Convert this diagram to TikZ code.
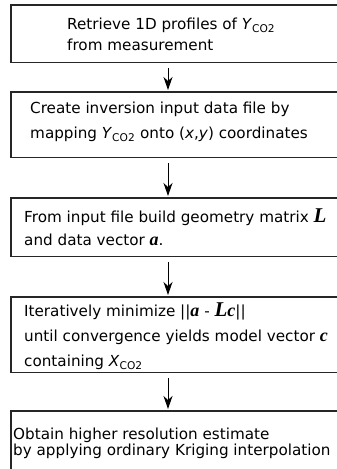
\documentclass[tikz,border=0pt]{standalone}
\usepackage{fontspec}
\setmainfont{DejaVu Sans}
\newfontfamily\symserif{Liberation Serif}
\usepackage{tikz}
\usetikzlibrary{arrows.meta, positioning}

\newcommand{\Yco}{\textit{Y}\textsubscript{CO2}}
\newcommand{\Xco}{\textit{X}\textsubscript{CO2}}
\newcommand{\bvec}[1]{{\symserif\bfseries\itshape\fontsize{18}{18}\selectfont #1}}
\newcommand{\bmat}[1]{{\symserif\bfseries\itshape\fontsize{21}{21}\selectfont #1}}

\tikzset{
  stage/.style={anchor=north west, minimum width=400pt, inner sep=0pt},
  frame/.style={draw=black!85, line width=1.6pt},
  stagetext/.style={anchor=west, align=left, inner sep=0pt},
  flow/.style={-{Stealth[length=13pt, width=9pt, inset=4pt]}, line width=1pt}
}

\begin{document}
\begin{tikzpicture}[x=1pt, y=1pt]
  \useasboundingbox (0,0) rectangle (337,-469);
  \clip (0,0) rectangle (337,-469);

  % the five stages
  \node[stage, minimum height=57pt] (retrieve) at (11,-5) {};
  \node[stagetext, font=\fontsize{15.2}{21}\selectfont] (retrieve-text)
    at ([xshift=56pt, yshift=-1pt]retrieve.west)
    {Retrieve 1D profiles of \Yco\\ from measurement};

  \node[stage, minimum height=65pt] (create) at (11,-92) {};
  \node[stagetext, font=\fontsize{15.2}{25}\selectfont] (create-text)
    at ([xshift=19pt, yshift=3pt]create.west)
    {Create inversion input data file by\\
     mapping \Yco{} onto (\textit{x},\textit{y}) coordinates};

  \node[stage, minimum height=58pt] (build) at (11,-198) {};
  \node[stagetext, font=\fontsize{15.2}{23}\selectfont] (build-text)
    at ([xshift=13pt, yshift=0pt]build.west)
    {From input file build geometry matrix \bmat{L}\\
     and data vector \bvec{a}.};

  \node[stage, minimum height=75pt] (minimize) at (11,-297) {};
  \node[stagetext, font=\fontsize{15.2}{25}\selectfont] (minimize-text)
    at ([xshift=13pt, yshift=-2pt]minimize.west)
    {Iteratively minimize ||\bvec{a} - \bmat{L}\bvec{c}||\\
     until convergence yields model vector \bvec{c}\\
     containing \Xco};

  \node[stage, minimum height=62pt] (kriging) at (11,-411) {};
  \node[stagetext, font=\fontsize{15.2}{16}\selectfont] (kriging-text)
    at ([xshift=2pt, yshift=-1.5pt]kriging.west)
    {Obtain higher resolution estimate\\
     by applying ordinary Kriging interpolation};

  % box outlines, open to the right (the boxes run off the page)
  \foreach \s in {retrieve, create, build, minimize, kriging}
    \draw[frame] (\s.north east) -- (\s.north west)
      -- (\s.south west) -- (\s.south east);

  % arrows between stages
  \draw[flow] ([xshift=157pt, yshift=-6pt]retrieve.south west)
    -- ([xshift=157pt, yshift=2pt]create.north west);
  \draw[flow] ([xshift=157pt, yshift=-6pt]create.south west)
    -- ([xshift=157pt, yshift=2pt]build.north west);
  \draw[flow] ([xshift=157pt, yshift=-6pt]build.south west)
    -- ([xshift=157pt, yshift=2pt]minimize.north west);
  \draw[flow] ([xshift=157pt, yshift=-6pt]minimize.south west)
    -- ([xshift=157pt, yshift=2pt]kriging.north west);
\end{tikzpicture}
\end{document}
